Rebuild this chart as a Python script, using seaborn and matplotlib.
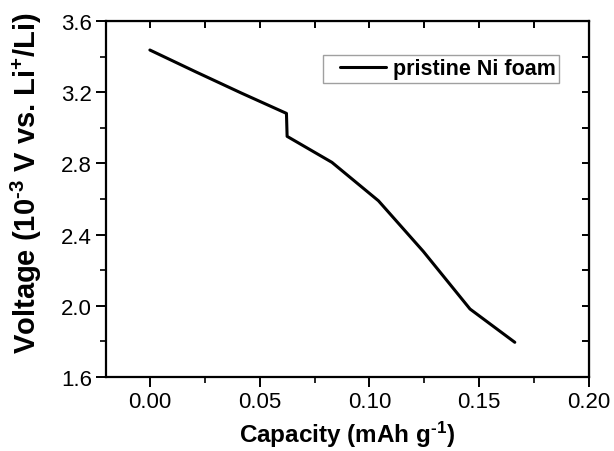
import matplotlib
matplotlib.use("Agg")
import matplotlib.pyplot as plt
import seaborn as sns
import pandas as pd
from matplotlib.ticker import MultipleLocator
from matplotlib.lines import Line2D
from matplotlib.legend_handler import HandlerLine2D

capacity = [0.0, 0.0208, 0.0417, 0.0622, 0.0625, 0.0829, 0.1041, 0.1245, 0.1458, 0.1662]
voltage = [3.437, 3.315, 3.195, 3.081, 2.952, 2.806, 2.590, 2.306, 1.982, 1.795]
series_name = "pristine Ni foam"

df = pd.DataFrame({"Capacity": capacity, "Voltage": voltage, "series": series_name})

sns.set_style("ticks")
plt.rcParams['font.family'] = ['Liberation Sans', 'DejaVu Sans']
plt.rcParams['text.color'] = 'black'
plt.rcParams['axes.labelcolor'] = 'black'
plt.rcParams['xtick.color'] = 'black'
plt.rcParams['ytick.color'] = 'black'
plt.rcParams['mathtext.fontset'] = 'custom'
plt.rcParams['mathtext.rm'] = 'Liberation Sans:bold'
plt.rcParams['mathtext.bf'] = 'Liberation Sans:bold'
plt.rcParams['mathtext.it'] = 'Liberation Sans:bold'

fig = plt.figure(figsize=(6.14, 4.52), dpi=100)
ax = fig.add_axes([0.1726, 0.1637, 0.9593 - 0.1726, 0.9513 - 0.1637])

sns.lineplot(data=df, x="Capacity", y="Voltage", hue="series", palette=["black"],
             sort=False, estimator=None, linewidth=2.2, ax=ax)

ax.set_xlim(-0.02, 0.20)
ax.set_ylim(1.6, 3.6)
ax.xaxis.set_major_locator(MultipleLocator(0.05))
ax.xaxis.set_minor_locator(MultipleLocator(0.025))
ax.yaxis.set_major_locator(MultipleLocator(0.4))
ax.yaxis.set_minor_locator(MultipleLocator(0.2))
ax.xaxis.set_major_formatter(matplotlib.ticker.FormatStrFormatter('%.2f'))
ax.yaxis.set_major_formatter(matplotlib.ticker.FormatStrFormatter('%.1f'))

for s in ax.spines.values():
    s.set_linewidth(1.6)
    s.set_color("black")

ax.tick_params(axis='both', which='major', direction='out', length=7, width=1.4,
               labelsize=16, colors='black', pad=3)
ax.tick_params(axis='both', which='minor', direction='out', length=4, width=1.2)

# mirrored inward ticks on top and right
axt = ax.secondary_xaxis('top')
axt.xaxis.set_major_locator(MultipleLocator(0.025))
axt.tick_params(direction='in', length=5, width=1.4, labeltop=False)
axt.set_xticklabels([])
axr = ax.secondary_yaxis('right')
axr.yaxis.set_major_locator(MultipleLocator(0.2))
axr.tick_params(direction='in', length=5, width=1.4, labelright=False)
axr.set_yticklabels([])

ax.set_xlabel("Capacity (mAh g$^{\u2010\\mathbf{1}}$)", fontsize=17.5, fontweight='bold',
              labelpad=5, color='black')
ax.set_ylabel("Voltage (10$^{\u2010\\mathbf{3}}$ V vs. Li$^{\\mathbf{+}}$/Li)", fontsize=21,
              fontweight='bold', color='black')
ax.yaxis.set_label_coords(-0.128, 0.548)

leg = ax.legend(loc='upper right', bbox_to_anchor=(0.938, 0.904), frameon=True, fancybox=False,
                prop={'weight': 'bold', 'size': 15.5}, handlelength=2.78, handletextpad=0.3,
                borderpad=0.15, borderaxespad=0,
                handler_map={Line2D: HandlerLine2D(xpad=0.6)})
leg.get_frame().set_edgecolor('#888888')
leg.get_frame().set_linewidth(1.0)
for t in leg.get_texts():
    t.set_color('black')

fig.savefig("out.png", dpi=100)
